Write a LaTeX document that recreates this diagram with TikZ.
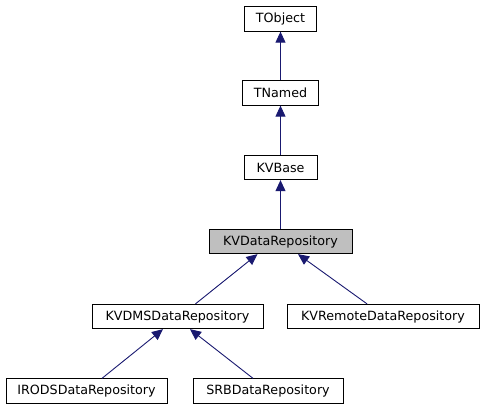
\documentclass[tikz,border=0pt]{standalone}
\usepackage{fontspec}
\setmainfont{DejaVu Sans}
\usetikzlibrary{arrows.meta,calc}
\definecolor{edgeblue}{HTML}{191970}
\definecolor{hlgray}{HTML}{BFBFBF}
\tikzset{
  cls/.style={draw=black, line width=0.8pt, fill=white, minimum height=24.5pt, inner sep=0pt,
    font=\fontsize{12.7}{14}\selectfont, anchor=center},
  edge/.style={draw=edgeblue, line width=0.9pt, -{Triangle[length=11pt,width=10pt]}, color=edgeblue}
}
\begin{document}
\begin{tikzpicture}[x=1pt,y=-1pt]
\useasboundingbox (0,0) rectangle (485,411);
\node[cls, minimum width=72pt] (tobject) at (280.5,19) {TObject};
\node[cls, minimum width=76pt] (tnamed) at (280.5,93) {TNamed};
\node[cls, minimum width=73pt] (kvbase) at (280.5,167.5) {KVBase};
\node[cls, minimum width=143pt, fill=hlgray] (kvdata) at (280.5,241.5) {KVDataRepository};
\node[cls, minimum width=171pt] (dms) at (177.5,316.5) {KVDMSDataRepository};
\node[cls, minimum width=192pt] (remote) at (383,316.5) {KVRemoteDataRepository};
\node[cls, minimum width=161pt] (irods) at (86.5,391) {IRODSDataRepository};
\node[cls, minimum width=150pt] (srb) at (268,391) {SRBDataRepository};

\draw[edge] (tnamed.north) -- (tobject.south);
\draw[edge] (kvbase.north) -- (tnamed.south);
\draw[edge] (kvdata.north) -- (kvbase.south);
\draw[edge] ($(dms.north)+(18,0)$) -- ($(kvdata.south)+(-23,0)$);
\draw[edge] ($(remote.north)+(-16,0)$) -- ($(kvdata.south)+(17.5,0)$);
\draw[edge] ($(irods.north)+(15.5,0)$) -- ($(dms.south)+(-14.5,0)$);
\draw[edge] ($(srb.north)+(-15,0)$) -- ($(dms.south)+(12.5,0)$);
\end{tikzpicture}
\end{document}
